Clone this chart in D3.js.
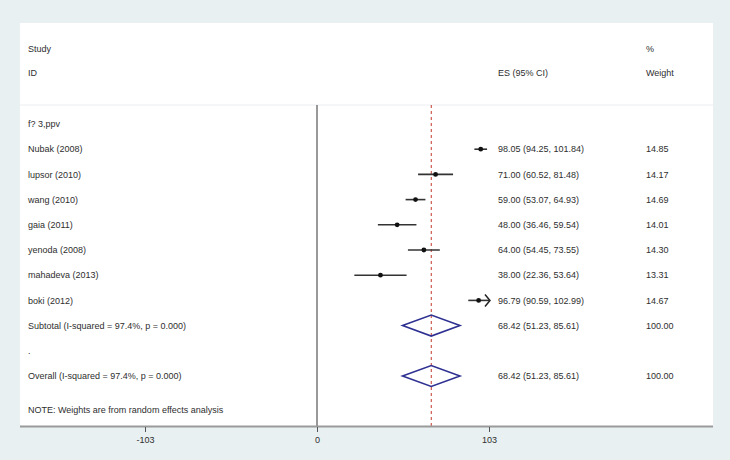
<!DOCTYPE html>
<html><head><meta charset="utf-8">
<script src="https://cdn.jsdelivr.net/npm/d3@7"></script>
<style>body{margin:0;background:#e9f0f2;} svg{display:block;font-family:"Liberation Sans",Arial,sans-serif;}</style>
</head><body>
<svg id="c" width="730" height="460"></svg>
<script>
const studies = ["Nubak (2008)","lupsor (2010)","wang (2010)","gaia (2011)","yenoda (2008)","mahadeva (2013)","boki (2012)"];
const es = [98.05,71.00,59.00,48.00,64.00,38.00,96.79];
const lo = [94.25,60.52,53.07,36.46,54.45,22.36,90.59];
const hi = [101.84,81.48,64.93,59.54,73.55,53.64,102.99];
const weights = ["14.85","14.17","14.69","14.01","14.30","13.31","14.67"];
const esText = ["98.05 (94.25, 101.84)","71.00 (60.52, 81.48)","59.00 (53.07, 64.93)","48.00 (36.46, 59.54)","64.00 (54.45, 73.55)","38.00 (22.36, 53.64)","96.79 (90.59, 102.99)"];
const pooled = {label:"Subtotal  (I-squared = 97.4%, p = 0.000)", es:68.42, lo:51.23, hi:85.61, text:"68.42 (51.23, 85.61)", w:"100.00"};
const overall = {label:"Overall  (I-squared = 97.4%, p = 0.000)", es:68.42, lo:51.23, hi:85.61, text:"68.42 (51.23, 85.61)", w:"100.00"};
const groupLabel = "f? 3,ppv";
const tickVals = [-103, 0, 103];
const clipMax = 103;

const svg = d3.select("#c");
const x = d3.scaleLinear().domain([-103,103]).range([145,489]);
const row = d3.scaleLinear().domain([0,10]).range([124,376]);
const txt = "#2e2e2e", fs = 9;

svg.append("rect").attr("x",20).attr("y",23).attr("width",693).attr("height",403).attr("fill","#fff");
svg.append("line").attr("x1",20).attr("x2",713).attr("y1",105).attr("y2",105).attr("stroke","#f1f3f4").attr("stroke-width",1.5);

function t(xp,yp,s,anchor){svg.append("text").attr("x",xp).attr("y",yp).attr("dy","0.35em").attr("font-size",fs).attr("fill",txt).attr("text-anchor",anchor||"start").text(s);}
t(28,49,"Study"); t(28,73,"ID"); t(498,73,"ES (95% CI)"); t(646,49,"%"); t(646,73,"Weight");

t(28,row(0),groupLabel);
studies.forEach((s,i)=>{ t(28,row(i+1),s); t(498,row(i+1),esText[i]); t(646,row(i+1),weights[i]); });
t(28,row(8),pooled.label); t(498,row(8),pooled.text); t(646,row(8),pooled.w);
t(28,row(9),".");
t(28,row(10),overall.label); t(498,row(10),overall.text); t(646,row(10),overall.w);
t(28,410,"NOTE: Weights are from random effects analysis");

// no-effect line
svg.append("line").attr("x1",x(0)).attr("x2",x(0)).attr("y1",105).attr("y2",426).attr("stroke","#555").attr("stroke-width",1.2);
// pooled dashed line
svg.append("line").attr("x1",x(pooled.es)).attr("x2",x(pooled.es)).attr("y1",105).attr("y2",426).attr("stroke","#c0392b").attr("stroke-width",1).attr("stroke-dasharray","3,3");

// CIs
studies.forEach((s,i)=>{
  const y = row(i+1);
  const h = Math.min(hi[i], clipMax);
  svg.append("line").attr("x1",x(lo[i])).attr("x2",x(h)).attr("y1",y).attr("y2",y).attr("stroke","#333").attr("stroke-width",1.6);
  svg.append("circle").attr("cx",x(es[i])).attr("cy",y).attr("r",2.4).attr("fill","#111");
  if (hi[i] > clipMax - 0.5) {
    svg.append("path").attr("d",`M${x(h)-4},${y-6} L${x(h)+1},${y} L${x(h)-4},${y+6}`).attr("fill","none").attr("stroke","#222").attr("stroke-width",1.5);
  }
});

// diamonds
[[pooled,8],[overall,10]].forEach(([p,r])=>{
  const y=row(r);
  svg.append("path").attr("d",`M${x(p.lo)},${y} L${x(p.es)},${y-10.5} L${x(p.hi)},${y} L${x(p.es)},${y+10.5} Z`)
    .attr("fill","none").attr("stroke","#2e3192").attr("stroke-width",1.6);
});

// axis
svg.append("line").attr("x1",20).attr("x2",713).attr("y1",426.5).attr("y2",426.5).attr("stroke","#9a9a9a").attr("stroke-width",2);
const ax = svg.append("g").attr("transform","translate(0,427)")
  .call(d3.axisBottom(x).tickValues(tickVals).tickSize(5).tickFormat(d=>String(d)));
ax.select(".domain").remove();
ax.selectAll(".tick line").attr("stroke","#555");
ax.selectAll(".tick text").attr("font-size",fs).attr("fill",txt).attr("font-family","Liberation Sans, Arial, sans-serif").attr("dy","0.9em");
</script>
</body></html>
